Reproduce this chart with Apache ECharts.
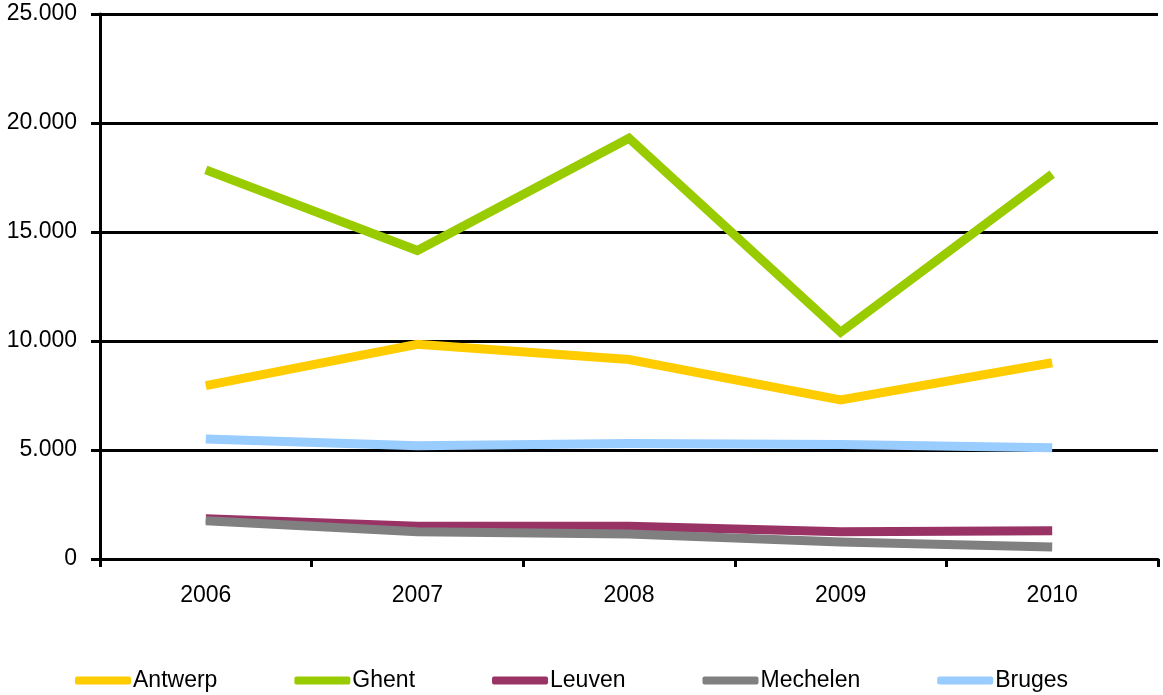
<!DOCTYPE html>
<html>
<head>
<meta charset="utf-8">
<script src="https://cdn.jsdelivr.net/npm/echarts@6/dist/echarts.min.js"></script>
<style>
  html, body { margin: 0; padding: 0; background: #fff; }
  #chart { width: 1163px; height: 695px; }
</style>
</head>
<body>
<div id="chart"></div>
<script>
// Yearly figures per city
const years = ['2006', '2007', '2008', '2009', '2010'];
const antwerp = [7950, 9850, 9150, 7300, 9000];
const ghent = [17850, 14150, 19300, 10400, 17650];
const leuven = [1850, 1500, 1500, 1250, 1300];
const mechelen = [1750, 1250, 1150, 780, 550];
const bruges = [5500, 5200, 5300, 5250, 5100];
const yTicks = { min: 0, max: 25000, interval: 5000 };

const cities = [
  { name: 'Antwerp', data: antwerp, color: '#FFCC00' },
  { name: 'Ghent', data: ghent, color: '#99CC00' },
  { name: 'Leuven', data: leuven, color: '#993366' },
  { name: 'Mechelen', data: mechelen, color: '#808080' },
  { name: 'Bruges', data: bruges, color: '#99CCFF' }
];

const font = 'Liberation Sans, Arial, sans-serif';

function thousands(v) {
  return String(v).replace(/\B(?=(\d{3})+(?!\d))/g, '.');
}

const chart = echarts.init(document.getElementById('chart'));
chart.setOption({
  animation: false,
  backgroundColor: '#ffffff',
  grid: { left: 100, right: 5, top: 14, bottom: 136 },
  legend: {
    bottom: -2,
    left: 70,
    icon: 'roundRect',
    itemWidth: 56,
    itemHeight: 8,
    itemGap: 77,
    textStyle: { fontFamily: font, fontSize: 23, color: '#000', padding: [0, 0, 0, -3] },
    data: cities.map(c => c.name)
  },
  xAxis: {
    type: 'category',
    data: years,
    boundaryGap: true,
    axisLine: { lineStyle: { color: '#000', width: 3 } },
    axisTick: { show: true, length: 8, lineStyle: { color: '#000', width: 3 } },
    axisLabel: { fontFamily: font, fontSize: 23, color: '#000', margin: 25 },
    splitLine: { show: false }
  },
  yAxis: {
    type: 'value',
    min: yTicks.min,
    max: yTicks.max,
    interval: yTicks.interval,
    axisLine: { show: true, lineStyle: { color: '#000', width: 3 } },
    axisTick: { show: true, length: 9, lineStyle: { color: '#000', width: 3 } },
    axisLabel: { fontFamily: font, fontSize: 23, color: '#000', margin: 23, formatter: thousands },
    splitLine: { show: true, lineStyle: { color: '#000', width: 3 } }
  },
  series: cities.map(c => ({
    name: c.name,
    type: 'line',
    data: c.data,
    symbol: 'none',
    color: c.color,
    lineStyle: { color: c.color, width: 9, join: 'miter' },
    itemStyle: { color: c.color }
  }))
});
</script>
</body>
</html>
